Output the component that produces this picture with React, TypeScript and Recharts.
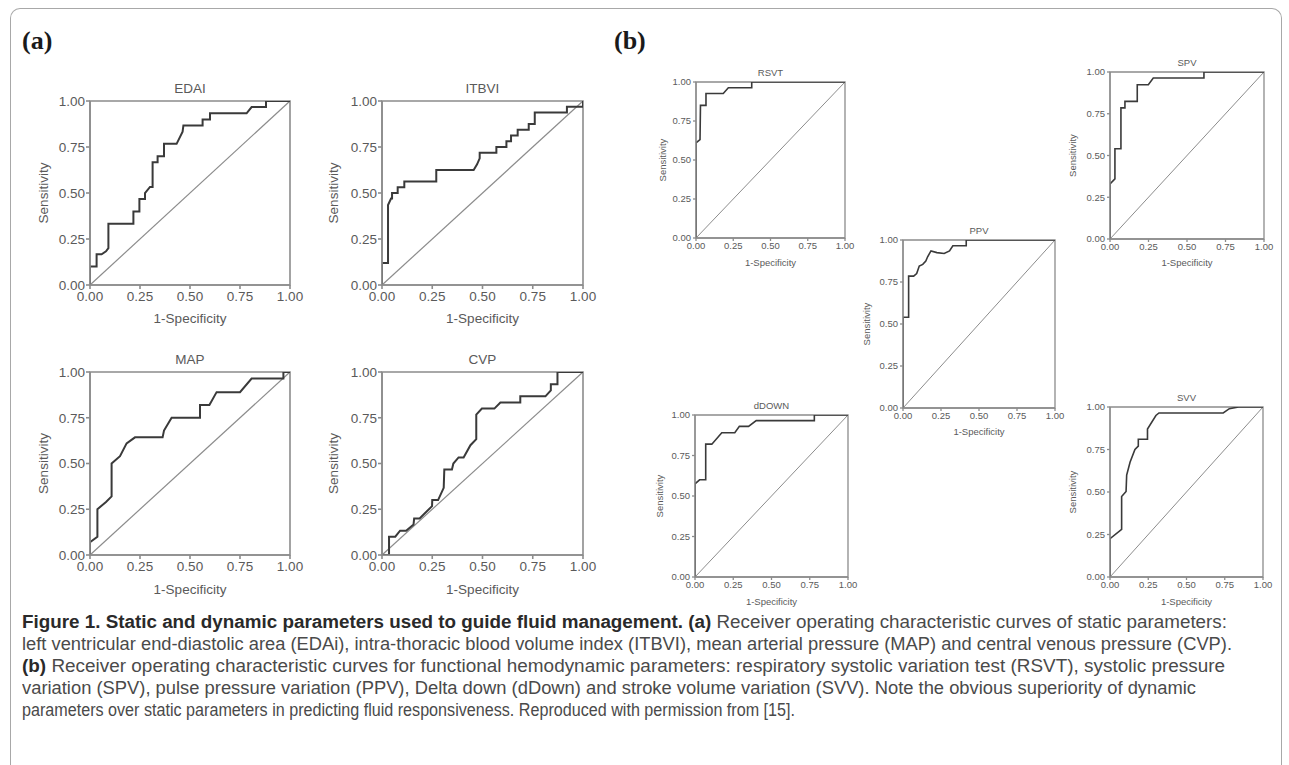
import React, { useLayoutEffect, useRef, useState } from 'react';
import { LineChart, Line, XAxis, YAxis, ReferenceArea, ReferenceLine } from 'recharts';

// ---------- data (1-specificity, sensitivity) ----------
const edaiFpr = [0, 0, 0.033, 0.033, 0.058, 0.08, 0.092, 0.092, 0.217, 0.217, 0.247, 0.247, 0.275, 0.275, 0.3, 0.313, 0.313, 0.338, 0.338, 0.37, 0.37, 0.433, 0.463, 0.467, 0.563, 0.563, 0.6, 0.6, 0.783, 0.808, 0.88, 0.88, 1];
const edaiTpr = [0, 0.1, 0.1, 0.167, 0.167, 0.183, 0.2, 0.333, 0.333, 0.4, 0.4, 0.467, 0.467, 0.5, 0.533, 0.533, 0.667, 0.667, 0.7, 0.7, 0.767, 0.767, 0.833, 0.867, 0.867, 0.9, 0.9, 0.933, 0.933, 0.967, 0.967, 1, 1];

const itbviFpr = [0, 0, 0.03, 0.03, 0.045, 0.05, 0.05, 0.078, 0.078, 0.111, 0.111, 0.27, 0.27, 0.456, 0.473, 0.486, 0.486, 0.569, 0.569, 0.619, 0.619, 0.642, 0.642, 0.675, 0.675, 0.73, 0.73, 0.76, 0.76, 0.92, 0.92, 1, 1];
const itbviTpr = [0, 0.12, 0.12, 0.435, 0.47, 0.47, 0.5, 0.5, 0.531, 0.531, 0.5625, 0.5625, 0.625, 0.625, 0.656, 0.688, 0.719, 0.719, 0.75, 0.75, 0.781, 0.781, 0.8125, 0.8125, 0.844, 0.844, 0.875, 0.875, 0.9375, 0.9375, 0.969, 0.969, 1];

const mapFpr = [0, 0, 0.037, 0.037, 0.08, 0.108, 0.108, 0.15, 0.183, 0.225, 0.363, 0.37, 0.408, 0.55, 0.55, 0.597, 0.633, 0.75, 0.808, 0.967, 0.967, 1];
const mapTpr = [0, 0.07, 0.1, 0.25, 0.29, 0.32, 0.5, 0.54, 0.61, 0.643, 0.643, 0.68, 0.75, 0.75, 0.82, 0.82, 0.89, 0.89, 0.964, 0.964, 1, 1];

const cvpFpr = [0, 0.035, 0.035, 0.066, 0.09, 0.12, 0.157, 0.16, 0.187, 0.249, 0.25, 0.279, 0.307, 0.31, 0.348, 0.355, 0.381, 0.406, 0.44, 0.469, 0.469, 0.497, 0.559, 0.589, 0.688, 0.688, 0.813, 0.84, 0.84, 0.873, 0.873, 1];
const cvpTpr = [0, 0, 0.1, 0.1, 0.133, 0.133, 0.167, 0.2, 0.2, 0.267, 0.3, 0.3, 0.367, 0.467, 0.467, 0.5, 0.533, 0.533, 0.6, 0.633, 0.767, 0.8, 0.8, 0.833, 0.833, 0.867, 0.867, 0.9, 0.933, 0.933, 1, 1];

const rsvtFpr = [0, 0, 0.027, 0.03, 0.067, 0.067, 0.183, 0.217, 0.374, 0.374, 1];
const rsvtTpr = [0, 0.61, 0.63, 0.85, 0.85, 0.926, 0.926, 0.963, 0.963, 1, 1];

const spvFpr = [0, 0, 0.032, 0.032, 0.071, 0.071, 0.097, 0.097, 0.177, 0.177, 0.249, 0.281, 0.61, 0.61, 1];
const spvTpr = [0, 0.33, 0.36, 0.54, 0.54, 0.785, 0.785, 0.824, 0.824, 0.924, 0.924, 0.964, 0.964, 1, 1];

const ppvFpr = [0, 0, 0.037, 0.037, 0.07, 0.09, 0.107, 0.13, 0.15, 0.162, 0.184, 0.223, 0.271, 0.306, 0.328, 0.416, 0.416, 1];
const ppvTpr = [0, 0.54, 0.54, 0.785, 0.785, 0.8, 0.845, 0.855, 0.875, 0.9, 0.935, 0.925, 0.92, 0.935, 0.966, 0.966, 1, 1];

const ddownFpr = [0, 0, 0.03, 0.07, 0.07, 0.11, 0.175, 0.26, 0.29, 0.35, 0.4, 0.78, 0.78, 1];
const ddownTpr = [0, 0.575, 0.6, 0.6, 0.82, 0.82, 0.89, 0.89, 0.93, 0.93, 0.965, 0.965, 1, 1];

const svvFpr = [0, 0, 0.076, 0.076, 0.105, 0.109, 0.131, 0.163, 0.185, 0.185, 0.245, 0.245, 0.3, 0.32, 0.74, 0.78, 0.84, 1];
const svvTpr = [0, 0.225, 0.28, 0.473, 0.503, 0.6, 0.675, 0.75, 0.77, 0.81, 0.81, 0.87, 0.95, 0.965, 0.965, 0.99, 1, 1];

const axisTicks = [0, 0.25, 0.5, 0.75, 1];
const xAxisTitle = '1-Specificity';
const yAxisTitle = 'Sensitivity';

type Box = { x0: number; x1: number; y0: number; y1: number };
type PanelDef = {
  title: string;
  fpr: number[];
  tpr: number[];
  box: Box;
  small: boolean;
  yLab: number;
  xLab: number;
  titleOff: number;
};

const panels: PanelDef[] = [
  { title: 'EDAI', fpr: edaiFpr, tpr: edaiTpr, box: { x0: 90, x1: 290, y0: 101, y1: 285 }, small: false, yLab: 47, xLab: 33, titleOff: 8 },
  { title: 'ITBVI', fpr: itbviFpr, tpr: itbviTpr, box: { x0: 382, x1: 583, y0: 101, y1: 285 }, small: false, yLab: 49, xLab: 33, titleOff: 8 },
  { title: 'MAP', fpr: mapFpr, tpr: mapTpr, box: { x0: 90, x1: 290, y0: 372, y1: 555 }, small: false, yLab: 47, xLab: 34, titleOff: 8 },
  { title: 'CVP', fpr: cvpFpr, tpr: cvpTpr, box: { x0: 382, x1: 583, y0: 372, y1: 555 }, small: false, yLab: 49, xLab: 34, titleOff: 8 },
  { title: 'RSVT', fpr: rsvtFpr, tpr: rsvtTpr, box: { x0: 696, x1: 845, y0: 82, y1: 238 }, small: true, yLab: 33, xLab: 25, titleOff: 6 },
  { title: 'SPV', fpr: spvFpr, tpr: spvTpr, box: { x0: 1110, x1: 1264, y0: 72, y1: 239 }, small: true, yLab: 37, xLab: 24, titleOff: 6 },
  { title: 'PPV', fpr: ppvFpr, tpr: ppvTpr, box: { x0: 903, x1: 1055, y0: 240, y1: 408 }, small: true, yLab: 36, xLab: 24, titleOff: 6 },
  { title: 'dDOWN', fpr: ddownFpr, tpr: ddownTpr, box: { x0: 695, x1: 848, y0: 415, y1: 577 }, small: true, yLab: 35, xLab: 25, titleOff: 6 },
  { title: 'SVV', fpr: svvFpr, tpr: svvTpr, box: { x0: 1110, x1: 1263, y0: 407, y1: 577 }, small: true, yLab: 37, xLab: 25, titleOff: 6 },
];

const FONT = '"Liberation Sans", Arial, Helvetica, sans-serif';
const TEXT = '#5a5a5a';
const AXIS = '#8c8c8c';

function RocPanel({ p }: { p: PanelDef }) {
  const { box, small } = p;
  const yW = p.yLab * 2;
  const xH = p.xLab * 2;
  const mTop = 24;
  const mRight = 24;
  const w = yW + (box.x1 - box.x0) + mRight;
  const h = mTop + (box.y1 - box.y0) + xH;
  const fs = small ? 9.5 : 13.5;
  const data = p.fpr.map((x, i) => ({ x, y: p.tpr[i] }));
  const tickStyle = { fontSize: fs, fill: TEXT, fontFamily: FONT };
  const sw = small ? 1.3 : 1.6;
  return (
    <div style={{ position: 'absolute', left: box.x0 - yW, top: box.y0 - mTop }}>
      <LineChart width={w} height={h} data={data} margin={{ top: mTop, right: mRight, bottom: 0, left: 0 }}>
        <XAxis
          dataKey="x"
          type="number"
          domain={[0, 1]}
          ticks={axisTicks}
          tickFormatter={(v: number) => v.toFixed(2)}
          tick={tickStyle}
          tickSize={small ? 3 : 4}
          tickMargin={small ? 1 : 2}
          height={xH}
          stroke={AXIS}
          strokeWidth={sw}
          allowDataOverflow
          interval={0}
          label={{ value: xAxisTitle, position: 'center', fontSize: fs, fill: TEXT, fontFamily: FONT }}
        />
        <YAxis
          type="number"
          domain={[0, 1]}
          ticks={axisTicks}
          tickFormatter={(v: number) => v.toFixed(2)}
          tick={tickStyle}
          tickSize={small ? 3 : 4}
          tickMargin={small ? 2 : 1}
          width={yW}
          stroke={AXIS}
          strokeWidth={sw}
          allowDataOverflow
          interval={0}
          label={{ value: yAxisTitle, angle: -90, position: 'center', fontSize: fs, fill: TEXT, fontFamily: FONT }}
        />
        <ReferenceArea
          x1={0}
          x2={1}
          y1={0}
          y2={1}
          fill="none"
          fillOpacity={0}
          stroke={AXIS}
          strokeWidth={sw}
          label={{ value: p.title, position: 'top', offset: p.titleOff, fontSize: fs, fill: TEXT, fontFamily: FONT }}
        />
        <ReferenceLine segment={[{ x: 0, y: 0 }, { x: 1, y: 1 }]} stroke={AXIS} strokeWidth={small ? 1 : 1.2} />
        <Line
          dataKey="y"
          type="linear"
          stroke="#3a3a3a"
          strokeWidth={small ? 1.6 : 2}
          dot={false}
          activeDot={false}
          isAnimationActive={false}
        />
      </LineChart>
    </div>
  );
}

function FitLine({ top, width, children }: { top: number; width: number; children: React.ReactNode }) {
  const ref = useRef<HTMLSpanElement>(null);
  const [s, setS] = useState(1);
  useLayoutEffect(() => {
    if (ref.current) {
      const w = ref.current.getBoundingClientRect().width;
      if (w > 0) setS(width / w);
    }
  }, []);
  return (
    <div
      style={{
        position: 'absolute',
        left: 22,
        top,
        whiteSpace: 'nowrap',
        transform: `scaleX(${s})`,
        transformOrigin: '0 0',
        fontFamily: FONT,
        fontSize: 17.5,
        lineHeight: '22px',
        color: '#4a4a4a',
      }}
    >
      <span ref={ref}>{children}</span>
    </div>
  );
}

const B = ({ children }: { children: React.ReactNode }) => (
  <span style={{ fontWeight: 'bold', color: '#2a2a2a' }}>{children}</span>
);

export default function App() {
  return (
    <div style={{ position: 'absolute', left: 0, top: 0, width: 1289, height: 765, background: '#fff', overflow: 'hidden' }}>
      <div
        style={{
          position: 'absolute',
          left: 10,
          top: 8,
          width: 1270,
          height: 800,
          borderTop: '1px solid #a8a8a8',
          borderLeft: '1px solid #a8a8a8',
          borderRight: '1px solid #a8a8a8',
          borderTopLeftRadius: 10,
          borderTopRightRadius: 10,
        }}
      />
      <div style={{ position: 'absolute', left: 22, top: 26, fontFamily: '"Liberation Serif", "Times New Roman", serif', fontWeight: 'bold', fontSize: 26, color: '#1a1a1a' }}>(a)</div>
      <div style={{ position: 'absolute', left: 614, top: 26, fontFamily: '"Liberation Serif", "Times New Roman", serif', fontWeight: 'bold', fontSize: 26, color: '#1a1a1a' }}>(b)</div>
      {panels.map((p) => (
        <RocPanel key={p.title} p={p} />
      ))}
      <FitLine top={611} width={1205}>
        <B>Figure 1. Static and dynamic parameters used to guide fluid management. (a)</B> Receiver operating characteristic curves of static parameters:
      </FitLine>
      <FitLine top={633} width={1210}>
        left ventricular end-diastolic area (EDAi), intra-thoracic blood volume index (ITBVI), mean arterial pressure (MAP) and central venous pressure (CVP).
      </FitLine>
      <FitLine top={655} width={1203}>
        <B>(b)</B> Receiver operating characteristic curves for functional hemodynamic parameters: respiratory systolic variation test (RSVT), systolic pressure
      </FitLine>
      <FitLine top={677} width={1174}>
        variation (SPV), pulse pressure variation (PPV), Delta down (dDown) and stroke volume variation (SVV). Note the obvious superiority of dynamic
      </FitLine>
      <FitLine top={699} width={773}>
        parameters over static parameters in predicting fluid responsiveness. Reproduced with permission from [15].
      </FitLine>
    </div>
  );
}
